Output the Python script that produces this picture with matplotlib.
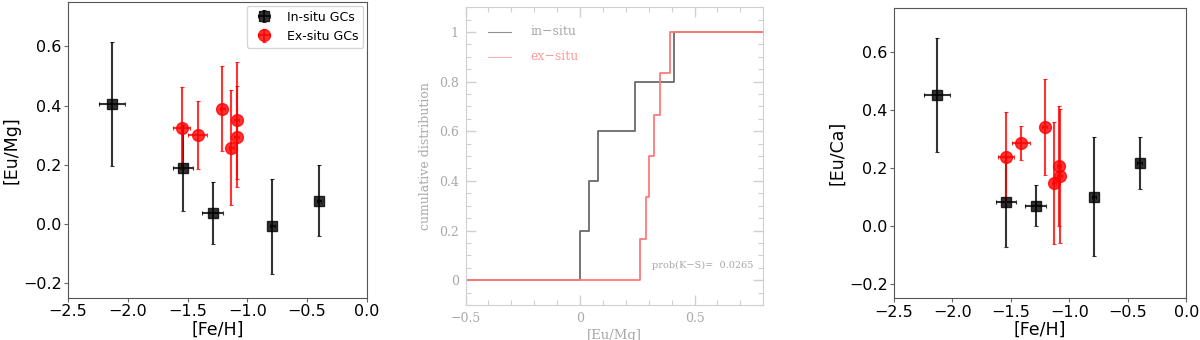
import numpy as np
import matplotlib
matplotlib.use("Agg")
import matplotlib.pyplot as plt
from matplotlib.ticker import MultipleLocator, FixedFormatter, FixedLocator

# in-situ GCs
insitu_feh = [-2.13, -1.54, -1.29, -0.79, -0.40]
insitu_feh_err = [0.11, 0.085, 0.09, 0.02, 0.02]
insitu_eumg = [0.406, 0.188, 0.036, -0.008, 0.078]
insitu_eumg_err = [0.21, 0.145, 0.105, 0.16, 0.12]
insitu_euca = [0.450, 0.083, 0.070, 0.101, 0.217]
insitu_euca_err = [0.196, 0.155, 0.072, 0.204, 0.09]

# ex-situ GCs
exsitu_feh = [-1.55, -1.415, -1.21, -1.135, -1.09, -1.09]
exsitu_feh_err = [0.07, 0.08, 0.02, 0.02, 0.02, 0.02]
exsitu_eumg = [0.324, 0.301, 0.389, 0.258, 0.350, 0.295]
exsitu_eumg_err = [0.14, 0.114, 0.144, 0.195, 0.197, 0.17]
exsitu_feh_ca = [-1.545, -1.414, -1.211, -1.132, -1.09, -1.085]
exsitu_euca = [0.237, 0.286, 0.341, 0.148, 0.206, 0.172]
exsitu_euca_err = [0.154, 0.058, 0.165, 0.21, 0.206, 0.23]

# cumulative distribution steps ([Eu/Mg])
cdf_insitu = [0.0, 0.04, 0.08, 0.24, 0.41]
cdf_exsitu = [0.261, 0.290, 0.302, 0.324, 0.351, 0.392]
ks_prob = "0.0265"

fig = plt.figure(figsize=(12, 3.4), dpi=100)
ax1 = fig.add_axes([0.0567, 0.1235, 0.249, 0.871])
ax2 = fig.add_axes([0.388, 0.103, 0.248, 0.876])
ax3 = fig.add_axes([0.745, 0.1226, 0.2437, 0.853])


def scatter_panel(ax, y_in, yerr_in, x_ex, y_ex, yerr_ex, ylabel, legend):
    ax.errorbar(insitu_feh, y_in, xerr=insitu_feh_err, yerr=yerr_in, fmt='s',
                color='k', ms=7.5, alpha=0.8, elinewidth=1.5, capsize=1.5,
                capthick=0.8, label='In-situ GCs')
    ax.errorbar(x_ex, y_ex, xerr=exsitu_feh_err, yerr=yerr_ex, fmt='o',
                color='red', ms=8.5, alpha=0.8, elinewidth=1.5, capsize=1.5,
                capthick=0.8, label='Ex-situ GCs')
    ax.set_xlim(-2.5, 0.0)
    ax.set_ylim(-0.25, 0.75)
    ax.set_xticks([-2.5, -2.0, -1.5, -1.0, -0.5, 0.0])
    ax.set_yticks([-0.2, 0.0, 0.2, 0.4, 0.6])
    ax.tick_params(labelsize=11.5, length=3, pad=1.5, color='#666666')
    for sp in ax.spines.values():
        sp.set_color('#555555')
    ax.set_xlabel('[Fe/H]', fontsize=12.5, labelpad=1)
    ax.set_ylabel(ylabel, fontsize=12.5, labelpad=2)
    if legend:
        ax.legend(loc='upper right', fontsize=9, borderaxespad=0.3)


scatter_panel(ax1, insitu_eumg, insitu_eumg_err, exsitu_feh, exsitu_eumg,
              exsitu_eumg_err, '[Eu/Mg]', True)
scatter_panel(ax3, insitu_euca, insitu_euca_err, exsitu_feh_ca, exsitu_euca,
              exsitu_euca_err, '[Eu/Ca]', False)

# middle panel: supermongo-like KS cumulative plot
gray_ax = '#d0d0d0'
gray_txt = '#a8a8a8'
serif = 'DejaVu Serif'


def cdf_xy(vals):
    v = np.sort(vals)
    n = len(v)
    xs = np.concatenate([[-0.5], v, [0.8]])
    ys = np.concatenate([[0.0], np.arange(1, n + 1) / n, [1.0]])
    return xs, ys


xs, ys = cdf_xy(cdf_insitu)
ax2.step(xs, ys, where='post', color='#6a6a6a', lw=1.3)
xs, ys = cdf_xy(cdf_exsitu)
ax2.step(xs, ys, where='post', color='#ff7a7a', lw=1.3)

ax2.plot([-0.4, -0.3], [1.0, 1.0], color='#909090', lw=0.8)
ax2.text(-0.215, 1.0, 'in\u2212situ', color=gray_txt, family=serif,
         fontsize=9, va='center')
ax2.plot([-0.4, -0.3], [0.9, 0.9], color='#ffb0b0', lw=0.8)
ax2.text(-0.215, 0.9, 'ex\u2212situ', color='#ff9a9a', family=serif,
         fontsize=9, va='center')
ax2.text(0.755, 0.06, 'prob(K\u2212S)=  ' + ks_prob, color=gray_txt,
         family=serif, fontsize=7, ha='right', va='center')

ax2.set_xlim(-0.5, 0.8)
ax2.set_ylim(-0.1, 1.1)
ax2.xaxis.set_major_locator(FixedLocator([-0.5, 0.0, 0.5]))
ax2.xaxis.set_major_formatter(FixedFormatter(['\u22120.5', '0', '0.5']))
ax2.xaxis.set_minor_locator(MultipleLocator(0.1))
ax2.yaxis.set_major_locator(FixedLocator([0, 0.2, 0.4, 0.6, 0.8, 1.0]))
ax2.yaxis.set_major_formatter(FixedFormatter(['0', '0.2', '0.4', '0.6', '0.8', '1']))
ax2.yaxis.set_minor_locator(MultipleLocator(0.05))
ax2.tick_params(which='both', direction='in', top=True, right=True,
                color=gray_ax, labelcolor=gray_txt, labelsize=9, pad=5)
ax2.tick_params(which='major', length=7, width=1.0)
ax2.tick_params(which='minor', length=3.5, width=0.8)
for lab in ax2.get_xticklabels() + ax2.get_yticklabels():
    lab.set_family(serif)
for sp in ax2.spines.values():
    sp.set_color(gray_ax)
ax2.set_xlabel('[Eu/Mg]', color=gray_txt, family=serif, fontsize=9.5,
               labelpad=3)
ax2.set_ylabel('cumulative distribution', color=gray_txt, family=serif,
               fontsize=9, labelpad=5)

fig.savefig('out.png', dpi=100)
